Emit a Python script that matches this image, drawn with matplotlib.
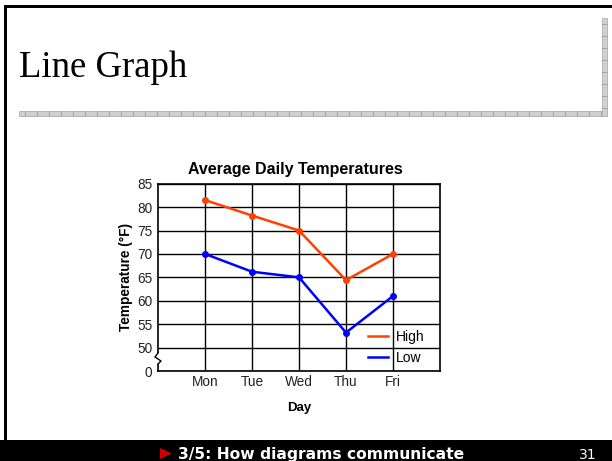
import matplotlib.pyplot as plt
from matplotlib.patches import Rectangle, Polygon
from matplotlib.lines import Line2D

# Temperature data for the week
days = ["Mon", "Tue", "Wed", "Thu", "Fri"]
high = [81.5, 78.2, 75, 64.4, 70]
low = [70, 66.2, 65, 53.2, 61]

# Y axis is broken between 0 and 50, so the bottom gridline carries the "0" label
y_ticks = [45, 50, 55, 60, 65, 70, 75, 80, 85]
y_labels = ["0", "50", "55", "60", "65", "70", "75", "80", "85"]

W, H = 612, 461
fig = plt.figure(figsize=(W / 100, H / 100), dpi=100)
fig.patch.set_facecolor("white")


def fx(x):
    return x / W


def fy(y):
    return 1 - y / H


def rect(x0, y0, x1, y1, **kw):
    r = Rectangle((fx(x0), fy(y1)), fx(x1) - fx(x0), fy(y0) - fy(y1),
                  transform=fig.transFigure, **kw)
    fig.add_artist(r)
    return r


# slide frame
rect(4, 5, 612, 8, color="black", lw=0)
rect(4, 5, 7, 441, color="black", lw=0)
rect(0, 440, 612, 461, color="black", lw=0)

# grey rules under the heading
rect(19, 111, 607, 116, facecolor="#d0d0d0", edgecolor="#b0b0b0", lw=0.6)
rect(602, 18, 607, 116, facecolor="#d0d0d0", edgecolor="#b0b0b0", lw=0.6)
for x in range(25, 602, 12):
    fig.add_artist(Line2D([fx(x), fx(x)], [fy(111), fy(116)],
                          transform=fig.transFigure, color="#a0a0a0", lw=0.6))
for y in range(24, 111, 12):
    fig.add_artist(Line2D([fx(602), fx(607)], [fy(y), fy(y)],
                          transform=fig.transFigure, color="#a0a0a0", lw=0.6))

fig.text(fx(19), fy(77), "Line Graph", family="Liberation Serif", fontsize=26.5,
         color="black", ha="left", va="baseline")

# footer
tri = Polygon([[fx(160), fy(448)], [fx(160), fy(459)], [fx(172), fy(453.5)]],
              closed=True, transform=fig.transFigure, color="#cc0000", lw=0)
fig.add_artist(tri)
fig.text(fx(178), fy(458.5), "3/5: How diagrams communicate", family="DejaVu Sans",
         fontweight="bold", fontsize=11.2, color="white", ha="left", va="baseline")
fig.text(fx(597), fy(458.5), "31", family="DejaVu Sans", fontsize=10,
         color="white", ha="right", va="baseline")

# chart
ax = fig.add_axes([fx(158), fy(371), fx(440) - fx(158), fy(183.7) - fy(371)])
x = list(range(len(days)))
ax.plot(x, high, color="#ff4000", lw=1.8, marker="o", ms=4, zorder=3)
ax.plot(x, low, color="#0000ff", lw=1.8, marker="o", ms=4, zorder=3)

ax.set_xlim(-1, 5)
ax.set_ylim(45, 85)
ax.set_xticks(x, days)
ax.set_yticks(y_ticks, y_labels)
ax.tick_params(length=0, labelsize=9.8, pad=4)
ax.tick_params(axis="x", pad=3)
for lab in ax.get_xticklabels() + ax.get_yticklabels():
    lab.set_family("Liberation Sans")
    lab.set_color("#222222")
ax.grid(True, color="black", lw=1)
ax.set_axisbelow(True)
for s in ax.spines.values():
    s.set_linewidth(1.2)

ax.set_title("Average Daily Temperatures", family="Liberation Sans",
             fontweight="bold", fontsize=11.5, pad=7, x=0.487)
ax.set_ylabel("Temperature (°F)", family="Liberation Sans", fontweight="bold",
              fontsize=9.8, labelpad=3)
ax.set_xlabel("Day", family="Liberation Sans", fontweight="bold", fontsize=9.5,
              labelpad=9)

# axis break on the left spine
rect(156, 353, 160, 364, color="white", lw=0, zorder=5)
fig.add_artist(Line2D([fx(158), fx(155), fx(161), fx(158)],
                      [fy(353), fy(357), fy(361), fy(364)],
                      transform=fig.transFigure, color="black", lw=1, zorder=6))

handles = [Line2D([], [], color="#ff4000", lw=1.8),
           Line2D([], [], color="#0000ff", lw=1.8)]
ax.legend(handles, ["High", "Low"], loc="lower right", frameon=False,
          bbox_to_anchor=(0.965, 0.005), borderaxespad=0, handlelength=1.45,
          handletextpad=0.55, labelspacing=0.45,
          prop={"family": "Liberation Sans", "size": 10})

fig.savefig("out.png", dpi=100)
